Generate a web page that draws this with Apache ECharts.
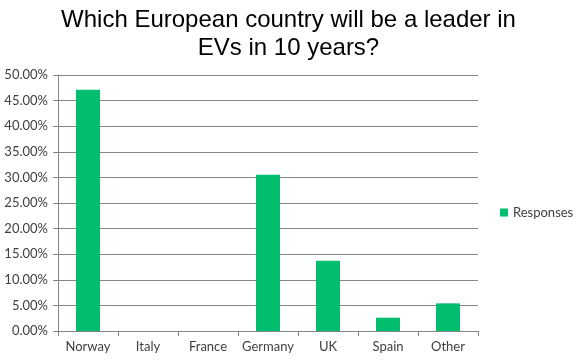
<!DOCTYPE html>
<html><head><meta charset="utf-8">
<script src="https://cdn.jsdelivr.net/npm/echarts@6/dist/echarts.min.js"></script>
<style>html,body{margin:0;padding:0;background:#fff}#c{width:577px;height:361px}</style>
</head><body><div id="c"></div>
<script>
const categories = ['Norway','Italy','France','Germany','UK','Spain','Other'];
const responses = [47.1, 0, 0, 30.5, 13.7, 2.6, 5.4];
const seriesName = 'Responses';
const chart = echarts.init(document.getElementById('c'), null, {renderer:'canvas'});
chart.setOption({
  animation:false,
  backgroundColor:'#fff',
  title:{text:'Which European country will be a leader in\nEVs in 10 years?', left:'center', top:1,
    textStyle:{fontFamily:'Liberation Sans', fontSize:24, fontWeight:'normal', color:'#000', lineHeight:28}},
  legend:{data:[seriesName], left:500, top:206, padding:0, itemWidth:8, itemHeight:8, icon:'rect', itemGap:4,
    textStyle:{fontFamily:'Lato', fontSize:13, color:'#404040'}},
  grid:{left:58, right:99, top:75, bottom:30},
  xAxis:{type:'category', data:categories,
    axisLine:{lineStyle:{color:'#868686'}},
    axisTick:{show:true, length:5, lineStyle:{color:'#868686'}},
    axisLabel:{interval:0, fontFamily:'Lato', fontSize:13, color:'#404040', margin:9}},
  yAxis:{type:'value', min:0, max:50, interval:5,
    axisLine:{show:true, lineStyle:{color:'#868686'}},
    axisTick:{show:true, length:5, lineStyle:{color:'#868686'}},
    splitLine:{lineStyle:{color:'#868686'}},
    axisLabel:{fontFamily:'Lato', fontSize:13, color:'#404040', margin:10,
      formatter:v=>v.toFixed(2)+'%'}},
  series:[{name:seriesName, type:'bar', data:responses, barWidth:'40%',
    itemStyle:{color:'#00BE6E'}}]
});
</script></body></html>
